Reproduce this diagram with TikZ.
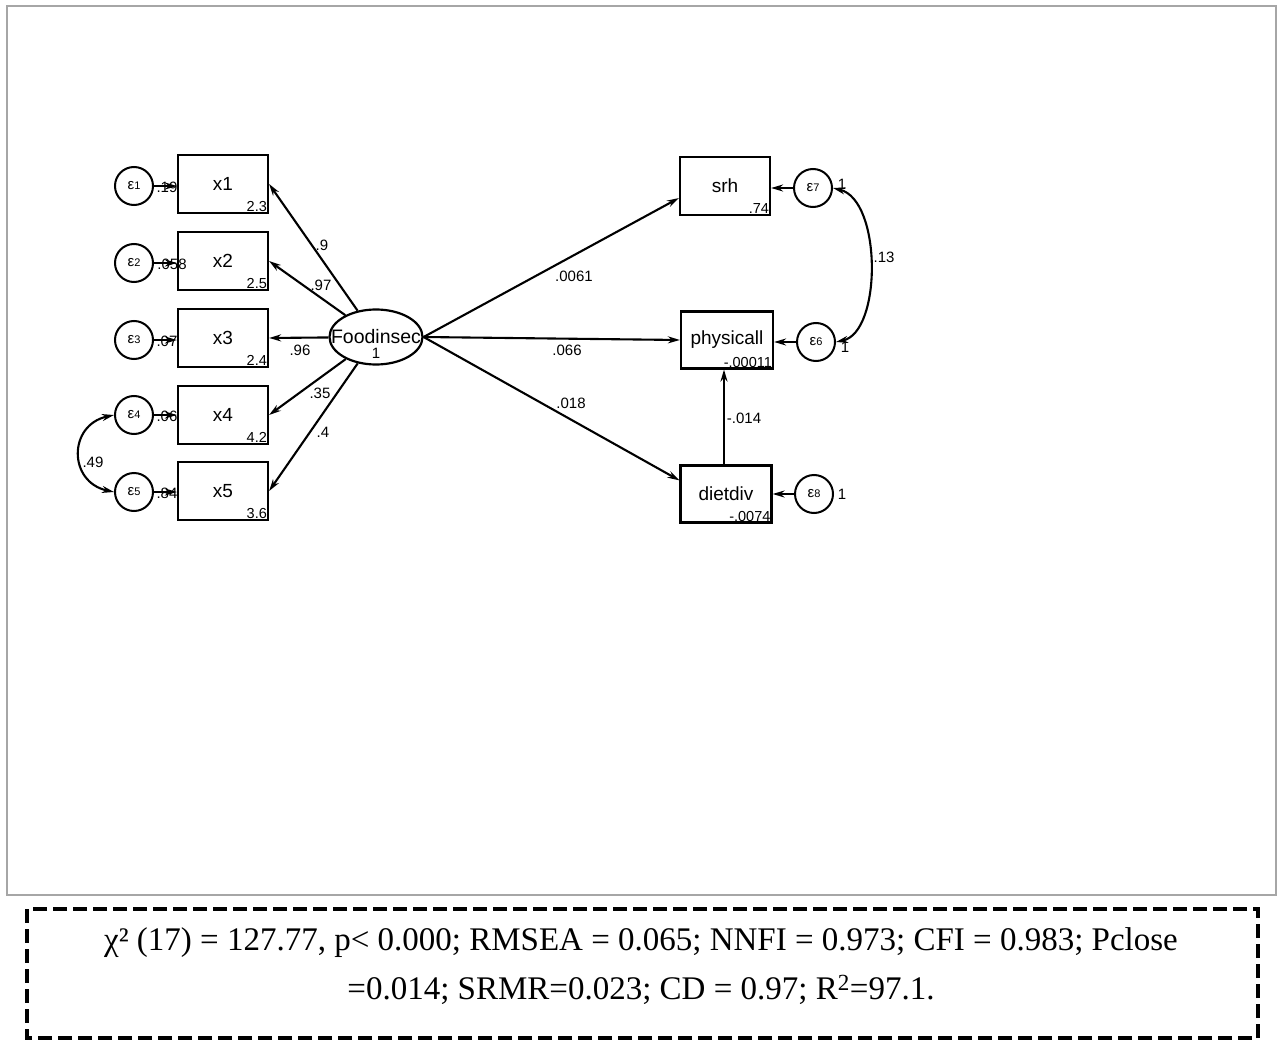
\documentclass[tikz,border=0pt]{standalone}
\usepackage{fontspec}
\setmainfont{Liberation Serif}
\setsansfont{Liberation Sans}
\usetikzlibrary{arrows.meta,calc,shapes.geometric}
\begin{document}
\begin{tikzpicture}[x=1pt,y=-1pt,
  obs/.style={draw,line width=2.2pt,minimum width=90pt,minimum height=58pt,inner sep=0pt,font=\sffamily\fontsize{19}{20}\selectfont},
  err/.style={draw,circle,line width=2pt,minimum size=38pt,inner sep=0pt,font=\sffamily\fontsize{15}{16}\selectfont},
  lat/.style={draw,ellipse,line width=2.2pt,minimum width=93pt,minimum height=55pt,inner sep=0pt},
  pth/.style={line width=2.1pt,-{Stealth[length=12pt,width=7pt]}},
  cov/.style={line width=2.1pt,{Stealth[length=12pt,width=7pt]}-{Stealth[length=12pt,width=7pt]}},
  lbl/.style={font=\sffamily\fontsize{15}{16}\selectfont,inner sep=0pt},
  intc/.style={font=\sffamily\fontsize{14.5}{15}\selectfont,inner sep=2pt,anchor=south east}
]
\useasboundingbox (0,0) rectangle (1282,1043);
\draw[gray!70,line width=1.2pt] (7,6) rectangle (1276,895);

% measurement boxes
\node[obs] (x1) at (223,184) {x1};
\node[obs] (x2) at (223,261) {x2};
\node[obs] (x3) at (223,338) {x3};
\node[obs] (x4) at (223,415) {x4};
\node[obs] (x5) at (223,491) {x5};
\node[intc] (i1) at (x1.south east) {2.3};
\node[intc] (i2) at (x2.south east) {2.5};
\node[intc] (i3) at (x3.south east) {2.4};
\node[intc] (i4) at (x4.south east) {4.2};
\node[intc] (i5) at (x5.south east) {3.6};

% error circles
\newcommand{\eps}[1]{ε{\fontsize{11}{12}\selectfont #1}}
\node[err] (e1) at (134,186) {\eps{1}};
\node[err] (e2) at (134,263) {\eps{2}};
\node[err] (e3) at (134,340) {\eps{3}};
\node[err] (e4) at (134,415) {\eps{4}};
\node[err] (e5) at (134,492) {\eps{5}};

\draw[pth] (e1) -- (e1 -| x1.west);
\draw[pth] (e2) -- (e2 -| x2.west);
\draw[pth] (e3) -- (e3 -| x3.west);
\draw[pth] (e4) -- (e4 -| x4.west);
\draw[pth] (e5) -- (e5 -| x5.west);
\node[lbl] (v1) at (167,187) {.19};
\node[lbl] (v2) at (172,264) {.058};
\node[lbl] (v3) at (167,341) {.07};
\node[lbl] (v4) at (167,416) {.06};
\node[lbl] (v5) at (167,493) {.84};

\draw[cov] (e4.west) .. controls (68,425) and (68,482) .. (e5.west);
\node[lbl] (c45) at (93,462) {.49};

% latent
\node[lat] (fi) at (376,337) {};
\node[font=\sffamily\fontsize{19.5}{20}\selectfont,inner sep=0pt] (fin) at (376,337) {Foodinsec};
\node[lbl] (fione) at (376,353) {1};
\draw[pth] (fi) -- (x1.east);
\draw[pth] (fi) -- (x2.east);
\draw[pth] (fi) -- (x3.east);
\draw[pth] (fi) -- (x4.east);
\draw[pth] (fi) -- (x5.east);
\node[lbl] (l1) at (322,245) {.9};
\node[lbl] (l2) at (321,285) {.97};
\node[lbl] (l3) at (300,350) {.96};
\node[lbl] (l4) at (320,393) {.35};
\node[lbl] (l5) at (323,432) {.4};

% outcomes
\node[obs] (srh) at (725,186) {srh};
\node[obs,minimum width=92pt,minimum height=57pt] (ph) at (727,340) {physicall};
\node[obs,minimum width=91pt,minimum height=57pt] (dd) at (726,494) {dietdiv};
\node[intc] (isrh) at (srh.south east) {.74};
\node[intc] (iph) at (ph.south east) {-.00011};
\node[intc] (idd) at (dd.south east) {-.0074};

\draw[pth] (fi.east) -- ($(srh.south west)!0.3!(srh.north west)$);
\draw[pth] (fi.east) -- (ph.west);
\draw[pth] (fi.east) -- ($(dd.north west)!0.27!(dd.south west)$);
\node[lbl] (p1) at (574,276) {.0061};
\node[lbl] (p2) at (567,350) {.066};
\node[lbl] (p3) at (571,403) {.018};

\coordinate (ddtop) at ($(dd.north)+(-2pt,0)$);
\draw[pth] (ddtop) -- (ddtop |- ph.south);
\node[lbl] (p4) at (744,418) {-.014};

\node[err] (e7) at (813,188) {\eps{7}};
\node[err] (e6) at (816,342) {\eps{6}};
\node[err] (e8) at (814,494) {\eps{8}};
\draw[pth] (e7) -- (e7 -| srh.east);
\draw[pth] (e6) -- (e6 -| ph.east);
\draw[pth] (e8) -- (e8 -| dd.east);
\node[lbl] (o7) at (842,184) {1};
\node[lbl] (o6) at (845,347) {1};
\node[lbl] (o8) at (842,494) {1};
\draw[cov] (e7.east) .. controls (882,200) and (882,332) .. (e6.east);
\node[lbl] (c67) at (884,257) {.13};

% fit box
\draw[line width=4pt,dash pattern=on 14pt off 6pt] (27,909) rectangle (1258,1038);
\node[font=\fontsize{33}{49}\selectfont,align=center] (fit) at (641,966)
  {χ² (17) = 127.77, p< 0.000; RMSEA = 0.065; NNFI = 0.973; CFI = 0.983; Pclose\\
   =0.014; SRMR=0.023; CD = 0.97; R\textsuperscript{2}=97.1.};
\end{tikzpicture}
\end{document}
